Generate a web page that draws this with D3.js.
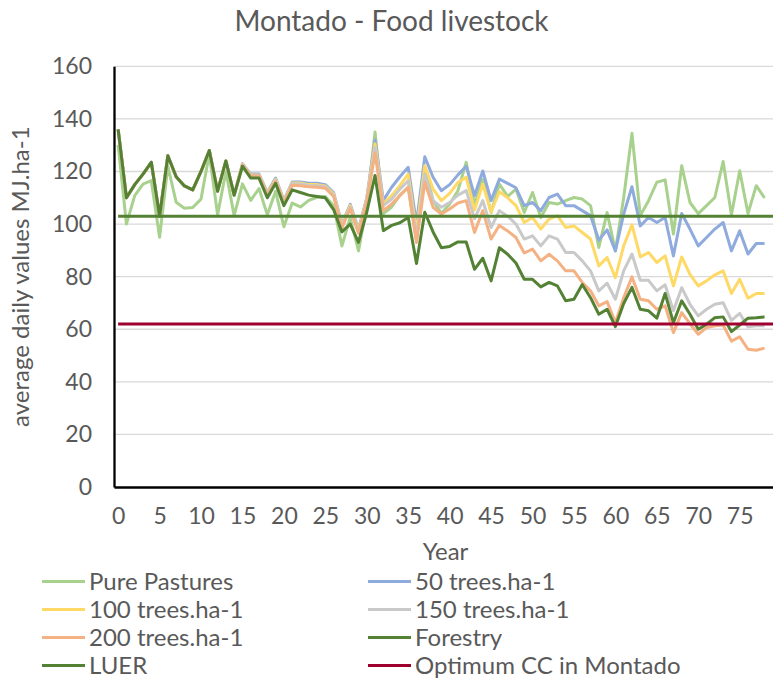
<!DOCTYPE html>
<html>
<head>
<meta charset="utf-8">
<script src="https://cdn.jsdelivr.net/npm/d3@7/dist/d3.min.js"></script>
<style>
    body { margin: 0; background: #fff; }
    svg text { font-family: Lato, "Open Sans", sans-serif; fill: #595959; }
</style>
</head>
<body>
<div id="chart"></div>
<script>
// categories: simulation years 0..78
const years = d3.range(0, 79);
const yearTicks = [0, 5, 10, 15, 20, 25, 30, 35, 40, 45, 50, 55, 60, 65, 70, 75];
const valueTicks = [0, 20, 40, 60, 80, 100, 120, 140, 160];

const purePastures = [130,100,110.8,115.2,116.5,95,122,108.3,106,106.3,
    109.5,126.7,103.5,120,103.2,115.3,109,113.5,103.5,112.5,
    99,108,106.5,109,110.2,110.5,107,91.7,102.5,89.8,
    107,135,104,106.5,111,114,94,121.5,109,104,
    107.6,112.7,123.5,107.3,117,104.4,115.2,110.5,113.3,104.4,
    112,102.5,108.2,107.6,108.9,110.1,109.5,107,91.1,104.4,
    89.8,110,134.5,103.2,108.9,115.9,116.8,96.2,122.2,108.2,
    104,107,110.1,123.8,103.5,120.3,104,114.6,109.9];

const trees50 = [136,110,115,119,123.5,103,126,118,114.5,113,
    120,128,112.5,124,111,123,119,119,112,117.5,
    109,116,116,115.5,115.5,115,112,100,107.5,98,
    110,132,109,114,118,121.6,100,125.6,117.8,112.7,
    115,118.7,122,110.8,120.2,108.9,117.1,115.5,113.8,107,
    108.2,105.1,110.1,111.4,107,107,105.1,103.2,93.9,97.8,
    89.8,103.8,114.2,99.3,102.5,100.6,102.5,87.9,104,98.1,
    91.7,94.9,98.1,100.6,89.8,97.4,88.6,92.6,92.6];

const trees100 = [136,110,115,119,123.5,103,126,118,114.5,113,
    120,128,112.5,124,111,122.8,118.7,118.7,111.7,117,
    108.7,115.6,115.6,115,115,114.5,111.5,99.5,107,97.5,
    109.5,130.5,107.6,110.8,114.6,119,97,122.2,113.3,108.9,
    111.7,115.8,117.8,105.3,115.2,104.6,112.3,110,107,100.6,
    102.5,98.1,101.9,103.2,98.7,99.3,96.8,94.3,84.1,87.3,
    79.6,91.7,99.7,87.5,89.2,85.4,87.9,76.5,87.5,80.9,
    76.5,78.4,80.7,82.2,73.6,79,71.8,73.6,73.6];

const trees150 = [136,110,115,119,123.5,103,126,118,114.5,113,
    120,128,112.5,124,111,122.6,118.5,118.5,111.4,116.7,
    108.4,115.3,115.2,114.7,114.6,114.2,111,99,106.5,97,
    109,129,107,109.5,113.3,116.5,95,119,108.9,106.4,
    108.2,111,112.7,102,108.9,98.7,105.1,103,100,94.3,
    95.5,91.7,95.5,94.3,89.2,89.2,86,82.2,74.6,77.5,
    71.4,82.2,88.6,78.6,78.6,74.6,76.9,67,75.8,69.5,
    65.1,67.6,69.5,70.1,63.4,66,60.9,61.3,61.3];

const trees200 = [136,110,115,119,123.5,103,126,118,114.5,113,
    120,128,112.5,124,111,122.4,118.3,118.3,111,116.3,
    108,114.8,114.6,114.2,114,113.6,110.5,98.5,106,96.5,
    108.5,127,105.1,107.6,110.8,114,93,115.9,106.4,103.8,
    105.7,108,108.9,96.8,105.1,94.3,99.5,97.4,94.9,89,
    90.5,86,88.5,86,82.2,82.2,77.8,74.6,68.9,70.5,
    62.5,72,79.9,71.4,70.8,67.6,68.9,58.7,66.3,62.1,
    58.1,60.6,61.3,61.6,55.5,57.1,52.4,52,52.8];

const forestry = [136,110,115,119,123.5,103,126,118,114.5,113,
    120,128,112.5,124,111,122,117.5,117.5,110,115.5,
    107,113,112,111,110.5,110,105.5,97,100,93,
    104.5,118.5,97.5,99.5,100.5,102.5,85,104.5,97,91,
    91.5,93.2,93.2,82.8,87,78.4,91,88.5,85.2,79,
    79,76.1,77.8,76.5,70.8,71.4,77,72,65.7,67.6,
    61,69.8,75.9,67.6,67,64.2,73.6,62.5,70.8,65.7,
    60,61.9,64.4,64.7,59.1,61.6,64.2,64.4,64.7];

const luer = 103;
const optimumCC = 62;

const W = 773, H = 679;
const plot = {left: 114, right: 777, top: 66.3, bottom: 487};

const svg = d3.select("#chart")
    .append("svg")
    .attr("width", W)
    .attr("height", H);

const x = d3.scaleLinear()
    .domain([-0.5, 79.5])
    .range([plot.left, plot.right]);

const y = d3.scaleLinear()
    .domain([0, 160])
    .range([plot.bottom, plot.top]);

// Grid lines
svg.append("g")
    .selectAll("line")
    .data(valueTicks.filter(d => d > 0))
    .enter().append("line")
    .attr("x1", plot.left)
    .attr("x2", plot.right)
    .attr("y1", d => y(d))
    .attr("y2", d => y(d))
    .attr("stroke", "#d9d9d9")
    .attr("stroke-width", 1.3);

// Series, in Excel draw order
const series = [
    {name: "Pure Pastures", values: purePastures, color: "#a9d18e"},
    {name: "50 trees.ha-1", values: trees50, color: "#8faadc"},
    {name: "100 trees.ha-1", values: trees100, color: "#ffd966"},
    {name: "150 trees.ha-1", values: trees150, color: "#c9c9c9"},
    {name: "200 trees.ha-1", values: trees200, color: "#f4b183"},
    {name: "Forestry", values: forestry, color: "#548235"},
    {name: "LUER", level: luer, color: "#548235"},
    {name: "Optimum CC in Montado", level: optimumCC, color: "#a00030"}
];

const line = d3.line()
    .x(d => x(d[0]))
    .y(d => y(d[1]));

svg.append("g")
    .selectAll("path")
    .data(series)
    .enter().append("path")
    .attr("fill", "none")
    .attr("stroke", d => d.color)
    .attr("stroke-width", 3)
    .attr("stroke-linejoin", "round")
    .attr("d", d => d.values
        ? line(years.map((yr, i) => [yr, d.values[i]]))
        : line([[years[0], d.level], [x.domain()[1], d.level]]));

// Y axis
const yAxis = svg.append("g")
    .attr("transform", "translate(" + plot.left + ",0)")
    .call(d3.axisLeft(y).tickValues(valueTicks).tickSize(0).tickPadding(22));
yAxis.select(".domain").attr("stroke", "#000").attr("stroke-width", 2.3);
yAxis.selectAll("text")
    .style("font-size", "23px")
    .style("font-family", "Lato, sans-serif")
    .attr("fill", "#595959");

// X axis
const xAxis = svg.append("g")
    .attr("transform", "translate(0," + plot.bottom + ")")
    .call(d3.axisBottom(x).tickValues(yearTicks).tickSize(0).tickPadding(21));
xAxis.select(".domain").attr("stroke", "#000").attr("stroke-width", 2.3);
xAxis.selectAll("text")
    .style("font-size", "23px")
    .style("font-family", "Lato, sans-serif")
    .attr("fill", "#595959");

// Titles
svg.append("text")
    .attr("x", 391.5)
    .attr("y", 31)
    .attr("text-anchor", "middle")
    .style("font-size", "28px")
    .text("Montado - Food livestock");

svg.append("text")
    .attr("x", (plot.left + plot.right) / 2)
    .attr("y", 560)
    .attr("text-anchor", "middle")
    .style("font-size", "24px")
    .text("Year");

svg.append("text")
    .attr("transform", "translate(29," + ((plot.top + plot.bottom) / 2) + ") rotate(-90)")
    .attr("text-anchor", "middle")
    .style("font-size", "24px")
    .text("average daily values MJ.ha-1");

// Legend: two columns, filled row by row
const legend = svg.append("g")
    .selectAll("g")
    .data(series)
    .enter().append("g")
    .attr("transform", (d, i) => "translate(" + (i % 2 === 0 ? 42 : 368) + "," + (581.5 + Math.floor(i / 2) * 28) + ")");

legend.append("line")
    .attr("x1", 0)
    .attr("x2", 43)
    .attr("stroke", d => d.color)
    .attr("stroke-width", 3);

legend.append("text")
    .attr("x", 47)
    .attr("dy", "0.35em")
    .style("font-size", "24px")
    .text(d => d.name);
</script>
</body>
</html>
